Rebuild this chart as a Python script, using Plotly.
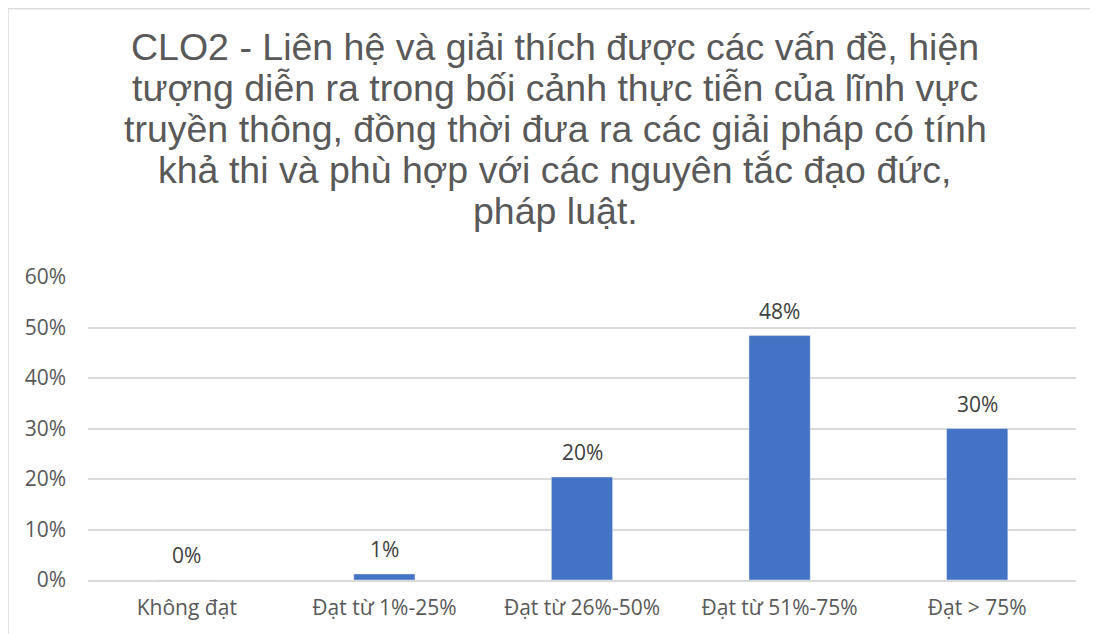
import plotly.graph_objects as go

categories = ['Không đạt', 'Đạt từ 1%-25%', 'Đạt từ 26%-50%', 'Đạt từ 51%-75%', 'Đạt > 75%']
values = [0.0, 0.012, 0.204, 0.484, 0.30]
y_ticks = [0, 0.1, 0.2, 0.3, 0.4, 0.5, 0.6]
title_lines = ['CLO2 - Liên hệ và giải thích được các vấn đề, hiện',
               'tượng diễn ra trong bối cảnh thực tiễn của lĩnh vực',
               'truyền thông, đồng thời đưa ra các giải pháp có tính',
               'khả thi và phù hợp với các nguyên tắc đạo đức,',
               'pháp luật.']

TICK_FONT = dict(size=21, color='#595959', family='Open Sans, Lato')

fig = go.Figure()
fig.add_trace(go.Bar(x=categories, y=values, marker_color='#4472C4', width=0.31))

# data labels above bars
for c, v in zip(categories, values):
    fig.add_annotation(x=c, y=v, text=f'{v:.0%}', showarrow=False, yanchor='bottom',
                       yshift=9, font=dict(size=21, color='#404040', family='Open Sans, Lato'))

# title: one annotation per line, tighter line spacing than plotly's title
plot_top, plot_h = 269, 303
for i, line in enumerate(title_lines):
    fy = 39 + 41 * i
    fig.add_annotation(text=line, xref='paper', yref='paper', x=0.4727,
                       y=(plot_top + plot_h - fy) / plot_h, xanchor='center', yanchor='middle',
                       showarrow=False,
                       font=dict(size=37.5, color='#595959', family='Liberation Sans, Arial'))

fig.update_layout(
    width=1098, height=634,
    margin=dict(l=80, r=30, t=269, b=62),
    plot_bgcolor='white', paper_bgcolor='white',
    showlegend=False,
)
fig.update_yaxes(range=[0, 0.6], tickvals=y_ticks, tickformat='.0%', showgrid=True,
                 gridcolor='#d9d9d9', gridwidth=1.5, zeroline=False, showline=False,
                 ticklabelstandoff=21, tickfont=TICK_FONT)
fig.update_xaxes(showline=True, linecolor='#d9d9d9', linewidth=1.5, ticks='',
                 ticklabelstandoff=8, tickfont=TICK_FONT)

# chart border
fig.add_shape(type='rect', xref='paper', yref='paper', x0=-0.081, x1=1.021, y0=-0.2, y1=1.886,
              line=dict(color='#d9d9d9', width=1.5), layer='below')

fig.write_html('out.html')
